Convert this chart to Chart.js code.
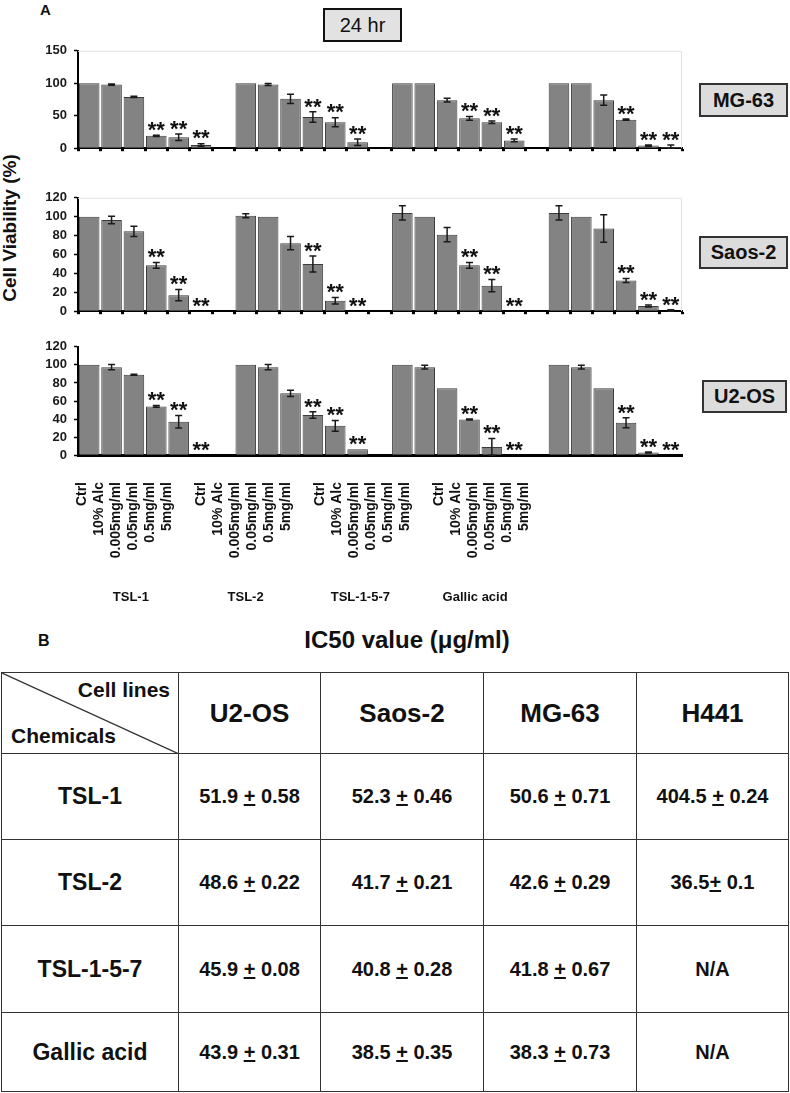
<!DOCTYPE html>
<html>
<head>
<meta charset="utf-8">
<script src="https://cdn.jsdelivr.net/npm/chart.js@4.4.1/dist/chart.umd.min.js"></script>
<style>
  body { margin:0; width:790px; height:1093px; position:relative; background:#fff; overflow:hidden;
         font-family: Arial, "Liberation Sans", sans-serif; color:#111; }
  canvas { position:absolute; left:0; }
  .lbl { position:absolute; font-weight:bold; }
  .cellbox { position:absolute; background:#dcdcdc; border:2px solid #333; box-sizing:border-box;
             display:flex; align-items:center; justify-content:center; font-weight:bold; font-size:20px; color:#111; }
  #hrbox { position:absolute; left:323px; top:8px; width:79px; height:34px; background:#e2e2e2; border:2.5px solid #111;
           box-sizing:border-box; display:flex; align-items:center; justify-content:center; font-size:20px; color:#111; }
  #ytitle { position:absolute; left:10px; top:228px; transform:translate(-50%,-50%) rotate(-90deg);
            white-space:nowrap; font-weight:bold; font-size:19px; }
  #ic50 { position:absolute; left:1px; top:672px; border-collapse:collapse; table-layout:fixed; width:787px; }
  #ic50 td { border:1.5px solid #333; text-align:center; vertical-align:middle; font-weight:bold; padding:0; }
  #ic50 td.rowh { font-size:23px; }
  #ic50 td.colh { font-size:26px; }
  #ic50 td.val { font-size:20px; }
  #corner { position:relative; }
  #corner svg { position:absolute; left:0; top:0; }
  #corner .cl { position:absolute; right:8px; top:5px; font-size:21px; }
  #corner .ch { position:absolute; left:9px; bottom:5px; font-size:21px; }
</style>
</head>
<body>
<div class="lbl" style="left:40px;top:1px;font-size:15px;">A</div>
<div id="hrbox">24 hr</div>
<div id="ytitle">Cell Viability (%)</div>

<canvas id="cMG" width="690" height="127" style="top:36px"></canvas>
<canvas id="cSA" width="690" height="143" style="top:183px"></canvas>
<canvas id="cU2" width="690" height="138" style="top:332px"></canvas>
<canvas id="cLab" width="790" height="142" style="top:467px"></canvas>

<div class="cellbox" style="left:699px;top:83px;width:89px;height:34px;">MG-63</div>
<div class="cellbox" style="left:699px;top:236px;width:89px;height:33px;">Saos-2</div>
<div class="cellbox" style="left:702px;top:380px;width:85px;height:33px;">U2-OS</div>

<div class="lbl" style="left:38px;top:632px;font-size:16px;">B</div>
<div class="lbl" id="ictitle" style="left:0;width:814px;text-align:center;top:626px;font-size:24px;">IC50 value (μg/ml)</div>

<table id="ic50"></table>

<script>
// ---------------- data ----------------
const doses = ['Ctrl', '10% Alc', '0.005mg/ml', '0.05mg/ml', '0.5mg/ml', '5mg/ml'];
const chemicals = ['TSL-1', 'TSL-2', 'TSL-1-5-7', 'Gallic acid'];

// MG-63 (24 hr)
const mg63Mean = [100, 98, 79, 19, 17, 5,   100, 98, 76, 48, 40, 9,   100, 100, 74, 46, 40, 12,   100, 100, 74, 44, 4, 2];
const mg63Err  = [0, 1, 1, 1, 5, 2,          0, 1.5, 7, 8, 7, 5,        0, 0, 3, 3, 2, 2,            0, 0, 8, 1, 1, 3];
const mg63Sig  = [0,0,0,1,1,1, 0,0,0,1,1,1, 0,0,0,1,1,1, 0,0,0,1,1,1];

// Saos-2 (24 hr)
const saosMean = [100, 96.5, 84.5, 48.5, 17, 0.5,   101, 100, 72, 50, 11, 0.5,   104, 100, 81, 48.5, 27, 0,   104, 100, 87.5, 32.5, 5.5, 0.5];
const saosErr  = [0, 4, 5.5, 3, 6, 0,                2, 0, 7, 8.5, 3.5, 0,        7.5, 0, 7.5, 3, 6.5, 0,      7.5, 0, 14.5, 2, 1, 1];
const saosSig  = [0,0,0,1,1,1, 0,0,0,1,1,1, 0,0,0,1,1,1, 0,0,0,1,1,1];

// U2-OS (24 hr)
const u2osMean = [100, 97.5, 89, 54, 37, 0,   100, 97.5, 68.5, 44.5, 32.5, 6.5,   100, 97.5, 74, 39.5, 9, 0,   100, 97.5, 74, 36, 3, 0];
const u2osErr  = [0, 3, 0.5, 1, 7, 0,          0, 3, 3.5, 3.5, 6, 0,               0, 2, 0, 0.5, 9.5, 0,        0, 2, 0, 5.5, 0.5, 0];
const u2osSig  = [0,0,0,1,1,1, 0,0,0,1,1,1, 0,0,0,1,1,1, 0,0,0,1,1,1];

// IC50 table
const tableCols = ['U2-OS', 'Saos-2', 'MG-63', 'H441'];
const tableRows = ['TSL-1', 'TSL-2', 'TSL-1-5-7', 'Gallic acid'];
const ic50Text = [
  ['51.9 + 0.58', '52.3 + 0.46', '50.6 + 0.71', '404.5 + 0.24'],
  ['48.6 + 0.22', '41.7 + 0.21', '42.6 + 0.29', '36.5+ 0.1'],
  ['45.9 + 0.08', '40.8 + 0.28', '41.8 + 0.67', 'N/A'],
  ['43.9 + 0.31', '38.5 + 0.35', '38.3 + 0.73', 'N/A']
];

// ---------------- helpers ----------------
function spread(arr, gap) { // insert one empty slot between groups of 6
  const out = [];
  arr.forEach((v, i) => { if (i > 0 && i % 6 === 0) out.push(gap); out.push(v); });
  return out;
}
const xLabels = spread(chemicals.flatMap(() => doses), '');

Chart.defaults.font.family = 'Arial, "Liberation Sans", sans-serif';
Chart.defaults.color = '#111';

const errPlugin = {
  id: 'errbars',
  afterDatasetsDraw(chart, args, opts) {
    const ctx = chart.ctx, y = chart.scales.y;
    const data = chart.data.datasets[0].data;
    chart.getDatasetMeta(0).data.forEach((bar, i) => {
      const v = data[i];
      if (v == null) return;
      const e = opts.err[i] || 0;
      const x = bar.x;
      if (e > 0) {
        const yt = y.getPixelForValue(v + e), yb = y.getPixelForValue(Math.max(0, v - e));
        ctx.save();
        ctx.strokeStyle = '#1a1a1a'; ctx.lineWidth = 1.5;
        ctx.beginPath();
        ctx.moveTo(x, yt); ctx.lineTo(x, yb);
        ctx.moveTo(x - 3.5, yt); ctx.lineTo(x + 3.5, yt);
        ctx.moveTo(x - 3.5, yb); ctx.lineTo(x + 3.5, yb);
        ctx.stroke();
        ctx.restore();
      }
      if (opts.sig[i]) {
        const top = y.getPixelForValue(v + e);
        ctx.save();
        ctx.fillStyle = '#111';
        ctx.font = 'bold 22px Arial, "Liberation Sans", sans-serif';
        ctx.textAlign = 'center'; ctx.textBaseline = 'alphabetic';
        ctx.fillText('**', x, top - 11 + 12.8);
        ctx.restore();
      }
    });
  }
};

const framePlugin = {
  id: 'frame',
  afterDraw(chart, args, opts) {
    if (!opts.show) return;
    const { ctx, chartArea: a } = chart;
    ctx.save();
    ctx.strokeStyle = '#e2e2e2'; ctx.lineWidth = 1;
    ctx.beginPath();
    ctx.moveTo(a.left, a.top + 0.5); ctx.lineTo(a.right - 0.5, a.top + 0.5); ctx.lineTo(a.right - 0.5, a.bottom);
    ctx.stroke();
    ctx.restore();
  }
};

function makePanel(id, mean, err, sig, yMax, step, isBottom) {
  const data = spread(mean, null);
  new Chart(document.getElementById(id), {
    type: 'bar',
    data: {
      labels: xLabels,
      datasets: [{
        data: data,
        backgroundColor: '#838383',
        borderColor: '#3c3c3c',
        borderWidth: 1,
        barPercentage: 0.92,
        categoryPercentage: 1.0
      }]
    },
    options: {
      responsive: false,
      animation: false,
      devicePixelRatio: 1,
      layout: { padding: { left: 0, right: 8, top: 10, bottom: 0 } },
      plugins: {
        legend: { display: false },
        tooltip: { enabled: false },
        errbars: { err: spread(err, 0), sig: spread(sig, 0) },
        frame: { show: !isBottom }
      },
      scales: {
        x: {
          type: 'category',
          offset: true,
          ticks: { display: false },
          grid: isBottom ? { display: false } :
                { display: true, drawOnChartArea: false, offset: true, tickLength: 3, tickColor: '#000', tickWidth: 3 },
          border: { display: true, color: '#000', width: isBottom ? 3 : 2 },
          afterFit: s => { s.height = isBottom ? 3 : 10; }
        },
        y: {
          min: 0, max: yMax,
          ticks: { stepSize: step, font: { size: 13, weight: 'bold' }, color: '#1a1a1a', padding: 7 },
          grid: { display: true, drawOnChartArea: false, tickLength: 4, tickColor: '#000', tickWidth: 1.5 },
          border: { display: true, color: '#000', width: 2 },
          afterFit: s => { s.width = 78; }
        }
      }
    },
    plugins: [errPlugin, framePlugin]
  });
}

makePanel('cMG', mg63Mean, mg63Err, mg63Sig, 150, 50, false);
makePanel('cSA', saosMean, saosErr, saosSig, 120, 20, false);
makePanel('cU2', u2osMean, u2osErr, u2osSig, 120, 20, true);

// dose / chemical labels under the bottom panel
new Chart(document.getElementById('cLab'), {
  type: 'bar',
  data: { labels: xLabels, datasets: [] },
  options: {
    responsive: false,
    animation: false,
    devicePixelRatio: 1,
    layout: { padding: { left: 73.5, right: 257.5, top: 0, bottom: 0 } },
    plugins: { legend: { display: false }, tooltip: { enabled: false } },
    scales: {
      y: { display: false },
      x: {
        type: 'category', position: 'bottom', offset: true,
        grid: { display: false, drawTicks: false },
        border: { display: false },
        ticks: { autoSkip: false, minRotation: 90, maxRotation: 90, padding: 13,
                 font: { size: 14, weight: 'bold' }, color: '#111' },
        afterFit: s => { s.height = 105; }
      },
      x2: {
        type: 'category', position: 'bottom', offset: true, labels: chemicals,
        grid: { display: false, drawTicks: false },
        border: { display: false },
        ticks: { padding: 16, font: { size: 13, weight: 'bold' }, color: '#111', maxRotation: 0 },
        afterFit: s => { s.height = 35; }
      }
    }
  }
});

// ---------------- IC50 table ----------------
const colW = [177, 142, 163, 153, 152];
const rowH = [81, 86, 86, 87, 79];
const tbl = document.getElementById('ic50');
let html = '<colgroup>' + colW.map(w => `<col style="width:${w}px">`).join('') + '</colgroup>';
html += `<tr style="height:${rowH[0]}px"><td id="corner"><svg width="${colW[0]}" height="${rowH[0]}"><line x1="0" y1="0" x2="${colW[0]}" y2="${rowH[0]}" stroke="#333" stroke-width="1.3"/></svg><span class="cl">Cell lines</span><span class="ch">Chemicals</span></td>`;
html += tableCols.map(c => `<td class="colh">${c}</td>`).join('') + '</tr>';
tableRows.forEach((r, i) => {
  html += `<tr style="height:${rowH[i + 1]}px"><td class="rowh">${r}</td>`;
  html += ic50Text[i].map(t => `<td class="val">${t.replace('+', '<u>+</u>')}</td>`).join('');
  html += '</tr>';
});
tbl.innerHTML = html;
</script>
</body>
</html>
